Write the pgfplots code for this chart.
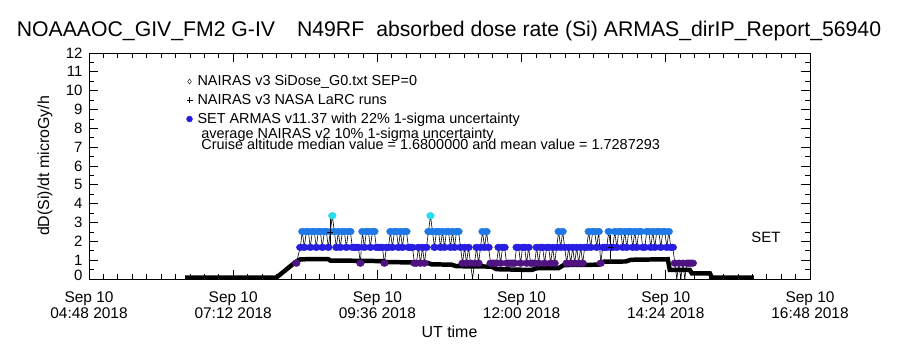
\documentclass[border=0pt]{standalone}
\usepackage{fontspec}
\setmainfont{Liberation Sans}
\usepackage{pgfplots}
\pgfplotsset{compat=1.18}
\usepackage{pgfplotstable}

\definecolor{lvA}{RGB}{80,20,130}
\definecolor{lvB}{RGB}{40,30,225}
\definecolor{lvC}{RGB}{30,120,230}
\definecolor{lvD}{RGB}{40,220,240}

% NAIRAS v3 SiDose (time in minutes of day, dose rate)
\pgfplotstableread{
t v
384 0.08
475 0.08
478 0.20
481 0.33
484 0.46
487 0.59
490 0.72
493 0.85
496 0.96
499 1.04
510 1.06
527 1.05
529 0.98
550 0.97
582 0.95
585 0.90
610 0.88
626 0.86
630 0.78
650 0.76
655 0.68
690 0.66
695 0.52
730 0.48
735 0.57
757 0.58
762 0.74
797 0.76
802 0.92
824 0.93
829 1.02
866 1.05
868 0.48
888 0.48
890 0.30
908 0.30
910 0.08
952 0.08
}\nairas

% SET ARMAS
\pgfplotstableread{
t v c
495 0.84 a
499 1.68 b
501 2.52 c
503 1.68 b
505 2.52 c
507 2.52 c
509 1.68 b
511 2.52 c
513 2.52 c
515 1.68 b
517 2.52 c
519 2.52 c
521 1.68 b
523 2.52 c
525 2.52 c
527 1.68 b
529 2.52 c
531 3.36 d
533 2.52 c
535 1.68 b
537 2.52 c
539 1.68 b
541 2.52 c
543 2.52 c
545 1.68 b
547 2.52 c
549 2.52 c
551 1.68 b
553 1.68 b
555 1.68 b
557 1.68 b
559 0.84 a
561 2.52 c
563 1.68 b
565 2.52 c
567 2.52 c
569 1.68 b
571 2.52 c
573 2.52 c
575 1.68 b
577 1.68 b
579 1.68 b
581 1.68 b
583 0.84 a
585 1.68 b
587 1.68 b
589 2.52 c
591 1.68 b
593 2.52 c
595 2.52 c
597 1.68 b
599 2.52 c
601 1.68 b
603 2.52 c
605 2.52 c
607 1.68 b
609 1.68 b
611 1.68 b
613 0.84 a
615 0.84 a
617 1.68 b
619 0.84 a
621 1.68 b
623 0.84 a
625 1.68 b
627 2.52 c
629 3.36 d
631 2.52 c
633 1.68 b
635 2.52 c
637 2.52 c
639 1.68 b
641 2.52 c
643 1.68 b
645 2.52 c
647 2.52 c
649 1.68 b
651 2.52 c
653 1.68 b
655 2.52 c
657 2.52 c
659 1.68 b
661 0.84 a
663 1.68 b
665 0.84 a
667 1.68 b
669 0.84 a
671 0.00 z
673 0.84 a
675 1.68 b
677 0.84 a
679 1.68 b
681 2.52 c
683 1.68 b
685 2.52 c
687 1.68 b
689 0.84 a
691 0.84 a
693 0.84 a
695 0.84 a
697 1.68 b
699 0.84 a
701 1.68 b
703 1.68 b
705 0.84 a
707 0.84 a
709 0.84 a
711 0.84 a
713 0.84 a
715 1.68 b
717 1.68 b
719 0.84 a
721 1.68 b
723 1.68 b
725 0.84 a
727 1.68 b
729 0.84 a
731 0.84 a
733 0.84 a
735 1.68 b
737 0.84 a
739 1.68 b
741 1.68 b
743 0.84 a
745 1.68 b
747 1.68 b
749 0.84 a
751 1.68 b
753 0.84 a
755 1.68 b
757 2.52 c
759 1.68 b
761 2.52 c
763 1.68 b
765 0.84 a
767 1.68 b
769 0.84 a
771 1.68 b
773 0.84 a
775 1.68 b
777 0.84 a
779 1.68 b
781 0.84 a
783 1.68 b
785 1.68 b
787 2.52 c
789 1.68 b
791 2.52 c
793 2.52 c
795 1.68 b
797 2.52 c
799 0.84 a
801 1.68 b
803 1.68 b
805 1.68 b
807 2.52 c
809 1.68 b
811 1.68 b
813 2.52 c
815 1.68 b
817 2.52 c
819 2.52 c
821 1.68 b
823 2.52 c
825 1.68 b
827 2.52 c
829 2.52 c
831 1.68 b
833 2.52 c
835 1.68 b
837 2.52 c
839 2.52 c
841 1.68 b
843 1.68 b
845 2.52 c
847 2.52 c
849 1.68 b
851 2.52 c
853 1.68 b
855 2.52 c
857 2.52 c
859 1.68 b
861 2.52 c
863 2.52 c
865 1.68 b
867 2.52 c
869 1.68 b
871 1.68 b
873 0.84 a
875 0.00 z
877 0.84 a
879 0.00 z
881 0.84 a
883 0.00 z
885 0.84 a
887 0.84 a
889 0.84 a
891 0.84 a
}\armas

\begin{document}
\begin{tikzpicture}
\begin{axis}[
  width=721bp, height=226bp, scale only axis,
  at={(0,0)}, anchor=south west,
  xmin=288, xmax=1008, ymin=0, ymax=12,
  xtick={288,432,576,720,864,1008},
  xticklabels={{Sep 10\\04:48 2018},{Sep 10\\07:12 2018},{Sep 10\\09:36 2018},{Sep 10\\12:00 2018},{Sep 10\\14:24 2018},{Sep 10\\16:48 2018}},
  minor x tick num=9,
  ytick={0,1,...,12},
  yticklabels={\raisebox{7bp}{0},1,2,3,4,5,6,7,8,9,10,11,\raisebox{-4bp}{12}},
  minor y tick num=1,
  major tick length=9bp, minor tick length=5bp,
  tick style={black, line width=0.7pt},
  axis line style={black, line width=0.9pt},
  /pgf/number format/assume math mode=true,
  xticklabel style={align=center, font=\fontsize{15.5}{16}\selectfont, yshift=-9bp},
  yticklabel style={font=\fontsize{15}{16}\selectfont, xshift=-3bp},
  title={NOAAAOC\_GIV\_FM2 G-IV\hspace{22bp}N49RF\hspace{12bp}absorbed dose rate (Si) ARMAS\_dirIP\_Report\_56940},
  title style={at={(axis description cs:0.4993,1.071)}, anchor=center, font=\fontsize{21.3}{24}\selectfont},
  xlabel={UT time},
  xlabel style={at={(axis description cs:0.5,-0.235)}, anchor=center, font=\fontsize{16}{18}\selectfont},
  ylabel={dD(Si)/dt microGy/h},
  ylabel style={at={(axis description cs:-0.061,0.5)}, anchor=center, font=\fontsize{16}{18}\selectfont},
  legend style={at={(axis description cs:0.135,0.91)}, anchor=north west, draw=none, fill=none,
    font=\fontsize{14.5}{16}\selectfont, row sep=3bp, column sep=3bp, inner sep=0pt},
  legend cell align=left,
  clip=true,
]
\addlegendimage{only marks, mark=diamond, black, mark size=2.5pt}
\addlegendentry{NAIRAS v3 SiDose\_G0.txt SEP=0}
\addlegendimage{only marks, mark=+, black, mark size=3pt}
\addlegendentry{NAIRAS v3 NASA LaRC runs}
\addlegendimage{only marks, mark=*, draw=lvB, fill=lvB, mark size=3pt}
\addlegendentry{SET ARMAS v11.37 with 22\% 1-sigma uncertainty}

\addplot[black, line width=4.5pt, forget plot] table[x=t,y=v] {\nairas};

\addplot[black, line width=0.6pt, forget plot] table[x=t,y=v] {\armas};
\addplot[scatter, only marks, forget plot, mark size=3.4pt,
  mark options={xscale=1.15},
  scatter src=explicit symbolic,
  scatter/classes={
    z={mark=*, mark size=0.4pt, draw=black, fill=black},
    a={mark=*, draw=lvA, fill=lvA},
    b={mark=*, draw=lvB, fill=lvB},
    c={mark=*, draw=lvC, fill=lvC},
    d={mark=*, draw=lvD, fill=lvD}}]
  table[x=t,y=v,meta=c] {\armas};

\addplot[black, only marks, mark=+, mark size=3pt, forget plot,
  error bars/.cd, y dir=both, y explicit,
  error bar style={line width=0.8pt},
  error mark options={black, mark size=5pt, line width=0.8pt}]
  coordinates {(529,2.48) +- (0,0.57) (809,1.70) +- (0,0.37)};

\node[anchor=west, font=\fontsize{14.5}{16}\selectfont] at (axis description cs:0.151,0.637) {average NAIRAS v2 10\% 1-sigma uncertainty};
\node[anchor=west, font=\fontsize{14.5}{16}\selectfont] at (axis description cs:0.151,0.597) {Cruise altitude median value = 1.6800000 and mean value = 1.7287293};
\node[font=\fontsize{15}{16}\selectfont] at (axis cs:964,2.23) {SET};
\end{axis}
\pgfresetboundingbox
\path (-89bp,-71bp) rectangle (811bp,279bp);
\end{tikzpicture}
\end{document}
